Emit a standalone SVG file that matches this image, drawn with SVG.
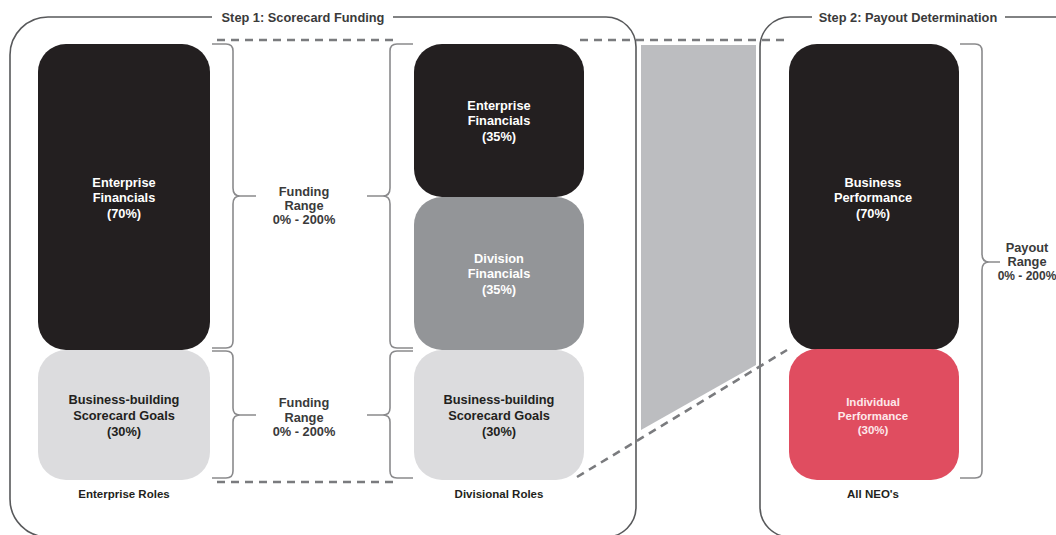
<svg xmlns="http://www.w3.org/2000/svg" width="1056" height="535" viewBox="0 0 1056 535">
<style>
text{font-family:"Liberation Sans",Arial,sans-serif;font-weight:bold;font-size:12.8px;text-anchor:middle}
.w{fill:#ffffff}
.d{fill:#231f20}
.t{fill:#3a3a3a}
.frame{fill:none;stroke:#58595b;stroke-width:1.6}
.brace{fill:none;stroke:#8a8a8c;stroke-width:1.6}
.dash{fill:none;stroke:#7a7b7e;stroke-width:2.6;stroke-dasharray:8 6}
</style>
<rect width="1056" height="535" fill="#ffffff"/>
<g id="frames">
<path class="frame" d="M212,17 H48 A38,38 0 0 0 10,55 V499 A38,38 0 0 0 48,537 H606 A30,30 0 0 0 636,507 V47 A30,30 0 0 0 606,17 H393"/>
<path class="frame" d="M812,17 H790 A30,30 0 0 0 760,47 V507 A30,30 0 0 0 790,537 H1070 M1005,17 H1070"/>
<text x="303" y="22" class="t">Step 1: Scorecard Funding</text>
<text x="908" y="22" class="t">Step 2: Payout Determination</text>
</g>
<polygon id="projection" points="641,45 756,45 756,365 641,430" fill="#bcbdc0"/>
<g id="connectors">
<path class="dash" d="M217,40 H393"/>
<path class="dash" d="M217,482 H393"/>
<path class="dash" d="M580,40 H788"/>
<path class="dash" d="M577,477 L787,350"/>
<path class="brace" d="M212,44 H226 Q233,44 233,51 V188 Q233,196 240,196 H256 M240,196 Q233,196 233,204 V341 Q233,348 226,348 H212"/>
<path class="brace" d="M212,351 H226 Q233,351 233,358 V408 Q233,415 240,415 H256 M240,415 Q233,415 233,422 V471 Q233,478 226,478 H212"/>
<path class="brace" d="M413,44 H397 Q390,44 390,51 V188 Q390,196 383,196 H367 M383,196 Q390,196 390,204 V341 Q390,348 397,348 H413"/>
<path class="brace" d="M413,351 H397 Q390,351 390,358 V408 Q390,415 383,415 H367 M383,415 Q390,415 390,422 V471 Q390,478 397,478 H413"/>
<path class="brace" d="M960,44 H975 Q982,44 982,51 V254 Q982,262 989,262 H1000 M989,262 Q982,262 982,270 V471 Q982,478 975,478 H960"/>
</g>
<g id="range1">
<text x="304" y="196" class="t">Funding</text>
<text x="304" y="210" class="t">Range</text>
<text x="304" y="224" class="t">0% - 200%</text>
</g>
<g id="range2">
<text x="304" y="407" class="t">Funding</text>
<text x="304" y="422" class="t">Range</text>
<text x="304" y="436" class="t">0% - 200%</text>
</g>
<g id="range3">
<text x="1027" y="252" class="t">Payout</text>
<text x="1027" y="266" class="t">Range</text>
<text x="1027" y="280" class="t" style="font-size:12px">0% - 200%</text>
</g>
<g id="ent-fin-70">
<rect x="38" y="44" width="172" height="306" rx="28" fill="#231f20"/>
<text x="124" y="187" class="w">Enterprise</text>
<text x="124" y="202" class="w">Financials</text>
<text x="124" y="218" class="w">(70%)</text>
</g>
<g id="bb-left">
<rect x="38" y="350" width="172" height="130" rx="28" fill="#dcdcde"/>
<text x="124" y="404" class="d">Business-building</text>
<text x="124" y="420" class="d">Scorecard Goals</text>
<text x="124" y="436" class="d">(30%)</text>
</g>
<text id="enterprise-roles" x="124" y="498" class="d" style="font-size:11.5px">Enterprise Roles</text>
<g id="ent-fin-35">
<rect x="414" y="44" width="170" height="153" rx="28" fill="#231f20"/>
<text x="499" y="110" class="w">Enterprise</text>
<text x="499" y="125" class="w">Financials</text>
<text x="499" y="141" class="w">(35%)</text>
</g>
<g id="div-fin">
<rect x="414" y="197" width="170" height="153" rx="28" fill="#939598"/>
<text x="499" y="263" class="w">Division</text>
<text x="499" y="278" class="w">Financials</text>
<text x="499" y="294" class="w">(35%)</text>
</g>
<g id="bb-mid">
<rect x="414" y="350" width="170" height="130" rx="28" fill="#dcdcde"/>
<text x="499" y="404" class="d">Business-building</text>
<text x="499" y="420" class="d">Scorecard Goals</text>
<text x="499" y="436" class="d">(30%)</text>
</g>
<text id="divisional-roles" x="499" y="498" class="d" style="font-size:11.5px">Divisional Roles</text>
<g id="bus-perf">
<rect x="789" y="44" width="170" height="306" rx="28" fill="#231f20"/>
<text x="873" y="187" class="w">Business</text>
<text x="873" y="202" class="w">Performance</text>
<text x="873" y="218" class="w">(70%)</text>
</g>
<g id="ind-perf">
<rect x="789" y="349" width="170" height="131" rx="28" fill="#e04d60"/>
<text x="873" y="406" style="fill:#fde8ea;font-size:11.5px">Individual</text>
<text x="873" y="420" style="fill:#fde8ea;font-size:11.5px">Performance</text>
<text x="873" y="434" style="fill:#fde8ea;font-size:11.5px">(30%)</text>
</g>
<text id="all-neos" x="873" y="498" class="d" style="font-size:11.5px">All NEO's</text>
</svg>
